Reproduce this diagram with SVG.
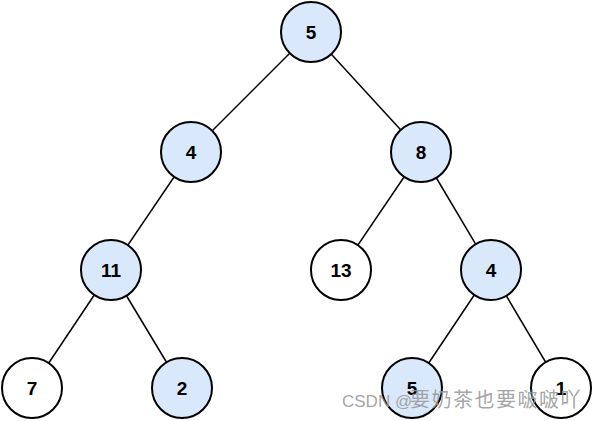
<svg xmlns="http://www.w3.org/2000/svg" width="592" height="421" viewBox="0 0 592 421">
<style>
.n circle{stroke:#000;stroke-width:2}
.b circle{fill:#dae8fc}
.w circle{fill:#fff}
.n text{font-family:"Liberation Sans",Arial,sans-serif;font-size:19px;font-weight:bold;text-anchor:middle;fill:#000}
#edges line{stroke:#000;stroke-width:1.5}
.wm{font-family:"Liberation Sans","Noto Sans CJK SC",sans-serif;font-size:17px;fill:#999;fill-opacity:0.9}
.wm .cjk{font-family:"Noto Sans CJK SC",sans-serif;font-size:20px;letter-spacing:1.5px}
</style>
<rect width="592" height="421" fill="#fff"/>
<g id="edges">
<line x1="311" y1="32" x2="191" y2="152"/>
<line x1="311" y1="32" x2="421" y2="152"/>
<line x1="191" y1="152" x2="111" y2="270"/>
<line x1="421" y1="152" x2="341" y2="270"/>
<line x1="421" y1="152" x2="491" y2="270"/>
<line x1="111" y1="270" x2="32" y2="388"/>
<line x1="111" y1="270" x2="182" y2="388"/>
<line x1="491" y1="270" x2="412" y2="388"/>
<line x1="491" y1="270" x2="561" y2="388"/>
</g>
<g id="n5" class="n b"><circle cx="311" cy="32" r="30"/><text x="311" y="39">5</text></g>
<g id="n4" class="n b"><circle cx="191" cy="152" r="30"/><text x="191" y="159">4</text></g>
<g id="n8" class="n b"><circle cx="421" cy="152" r="30"/><text x="421" y="159">8</text></g>
<g id="n11" class="n b"><circle cx="111" cy="270" r="30"/><text x="111" y="277">11</text></g>
<g id="n13" class="n w"><circle cx="341" cy="270" r="30"/><text x="341" y="277">13</text></g>
<g id="n4b" class="n b"><circle cx="491" cy="270" r="30"/><text x="491" y="277">4</text></g>
<g id="n7" class="n w"><circle cx="32" cy="388" r="30"/><text x="32" y="395">7</text></g>
<g id="n2" class="n b"><circle cx="182" cy="388" r="30"/><text x="182" y="395">2</text></g>
<g id="n5b" class="n b"><circle cx="412" cy="388" r="30"/><text x="412" y="395">5</text></g>
<g id="n1" class="n w"><circle cx="561" cy="388" r="30"/><text x="561" y="395">1</text></g>
<text class="wm" x="342" y="407">CSDN @<tspan class="cjk" x="410">要奶茶也要啵啵吖</tspan></text>
</svg>
